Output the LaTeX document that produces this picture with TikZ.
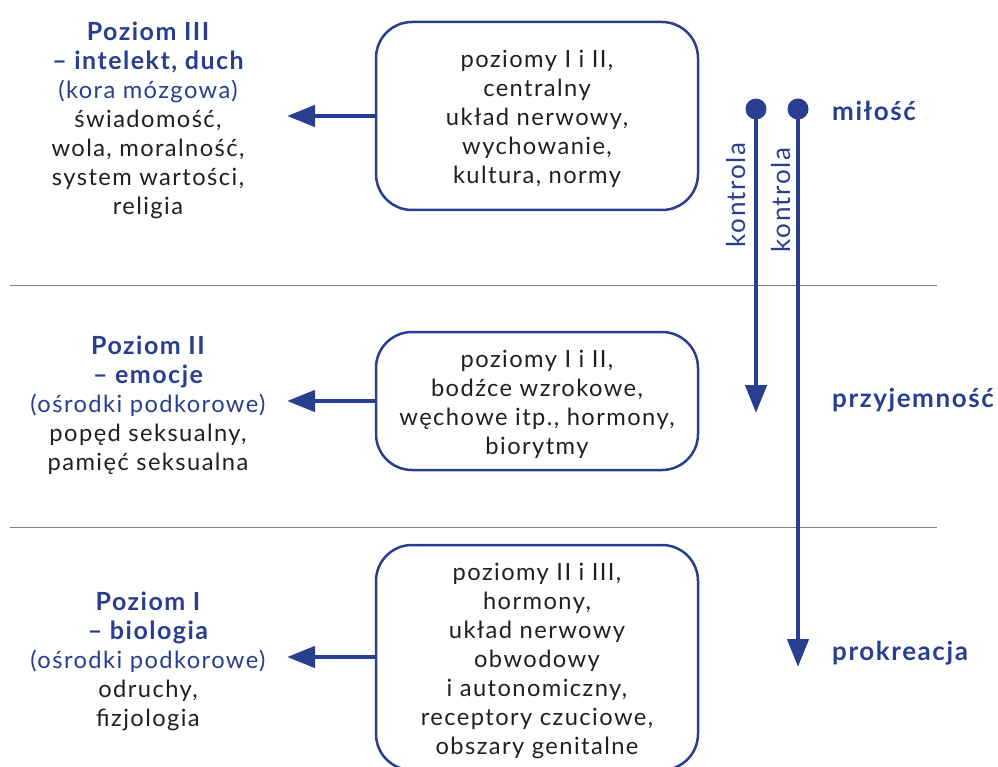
\documentclass[tikz,border=0pt]{standalone}
\usepackage{fontspec}
\setmainfont{Lato}[LetterSpace=6]
\usetikzlibrary{arrows.meta}
\definecolor{navy}{RGB}{40,62,145}
\definecolor{txt}{RGB}{35,31,32}
\definecolor{sepgray}{RGB}{130,130,130}
\begin{document}
\begin{tikzpicture}[x=1pt,y=-1pt,
  box/.style={draw=navy, line width=2.5pt, rounded corners=36pt, minimum width=322pt, inner sep=0pt},
  body/.style={align=center, text=txt, font=\fontsize{23.7}{29}\selectfont, inner sep=0pt},
  arr/.style={draw=navy, line width=4.5pt, -{Triangle[length=28pt,width=21pt]}},
  sep/.style={draw=sepgray, line width=1pt},
  dot/.style={circle, fill=navy, minimum size=21pt, inner sep=0pt},
  tag/.style={text=navy, font=\bfseries\fontsize{26}{30}\selectfont, anchor=west, inner sep=0pt},
  ctl/.style={text=navy, font=\fontsize{26}{30}\selectfont, rotate=90, inner sep=0pt}]
\useasboundingbox (0,0) rectangle (998,767);
\clip (0,0) rectangle (998,767);
\newcommand{\hd}[1]{{\bfseries\fontsize{25}{30.5}\selectfont\color{navy}#1}}
\newcommand{\sub}[1]{{\color{navy}#1}}

% separators
\coordinate (s1a) at (10,285); \coordinate (s1b) at (937,285);
\coordinate (s2a) at (10,527); \coordinate (s2b) at (937,527);
\draw[sep] (s1a) -- (s1b);
\draw[sep] (s2a) -- (s2b);

% boxes
\node[box, minimum height=188pt] (b1) at (537,116) {};
\node[box, minimum height=138pt] (b2) at (537,401) {};
\node[box, minimum height=225pt] (b3) at (537,657.5) {};
\node[body] (t1b) at (537,118.5) {poziomy I i II,\\ centralny\\ układ nerwowy,\\ wychowanie,\\ kultura, normy};
\node[body] (t2b) at (537,404) {poziomy I i II,\\ bodźce wzrokowe,\\ węchowe itp., hormony,\\ biorytmy};
\node[body] (t3b) at (537,661.5) {poziomy II i III,\\ hormony,\\ układ nerwowy\\ obwodowy\\ i autonomiczny,\\ receptory czuciowe,\\ obszary genitalne};

% left texts
\node[body] (l3) at (148,120) {\hd{Poziom III}\\ \hd{– intelekt, duch}\\ \sub{(kora mózgowa)}\\ świadomość,\\ wola, moralność,\\ system wartości,\\ religia};
\node[body] (l2) at (148,405) {\hd{Poziom II}\\ \hd{– emocje}\\ \sub{(ośrodki podkorowe)}\\ popęd seksualny,\\ pamięć seksualna};
\node[body] (l1) at (148,661) {\hd{Poziom I}\\ \hd{– biologia}\\ \sub{(ośrodki podkorowe)}\\ odruchy,\\ fizjologia};

% arrows to levels
\coordinate (a3) at (287,116);
\coordinate (a2) at (287,401);
\coordinate (a1) at (287,657);
\draw[arr] (b1.west |- a3) -- (a3);
\draw[arr] (b2.west |- a2) -- (a2);
\draw[arr] (b3.west |- a1) -- (a1);

% control lines
\node[dot] (d1) at (756,109) {};
\node[dot] (d2) at (798,109) {};
\coordinate (e1) at (756,413);
\coordinate (e2) at (798,667);
\draw[arr] (d1.center) -- (e1);
\draw[arr] (d2.center) -- (e2);
\node[ctl] (k1) at (736,195) {kontrola};
\node[ctl] (k2) at (781,200) {kontrola};

% right labels
\node[tag] (m) at (832,111) {miłość};
\node[tag] (p) at (832,400) {przyjemność};
\node[tag] (r) at (832,653) {prokreacja};
\end{tikzpicture}
\end{document}
